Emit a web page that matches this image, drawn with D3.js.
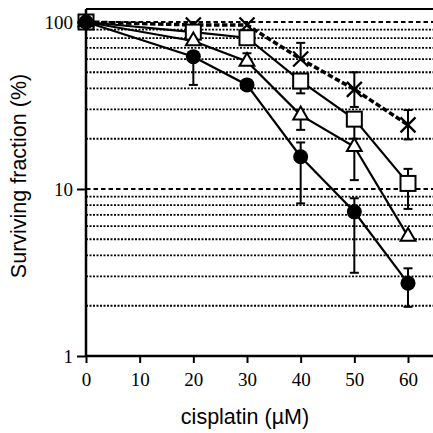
<!DOCTYPE html>
<html><head><meta charset="utf-8">
<script src="https://cdn.jsdelivr.net/npm/d3@7"></script>
<style>body{margin:0;background:#fff}svg{display:block}</style>
</head><body>
<script>
const conc = [0, 20, 30, 40, 50, 60];
const xTicks = [0, 10, 20, 30, 40, 50, 60];
const yTicks = [1, 10, 100];
const gridMajor = [10, 100];
const gridMinor = [2,3,4,5,6,7,8,9,20,30,40,50,60,70,80,90];

const crossVals  = [100, 96, 96, 60, 39.5, 24.2];
const crossLo    = [null, null, null, null, 31, 19.8];
const crossHi    = [null, null, null, 75, 50, 29.7];
const squareVals = [100, 87, 80.5, 44.3, 26.2, 10.8];
const squareLo   = [null, null, null, 37.4, 20, 7.6];
const squareHi   = [null, null, null, null, null, 13.2];
const triVals    = [100, 77, 58, 27.7, 17.9, 5.2];
const triLo      = [null, null, null, 22.6, 11.3, null];
const triHi      = [null, null, 65, null, null, null];
const circVals   = [100, 62, 42, 15.6, 7.3, 2.73];
const circLo     = [null, 42, null, 8.2, 3.15, 1.97];
const circHi     = [null, null, null, 19, 8.8, 3.35];

const W = 433, H = 433;
const svg = d3.select("body").append("svg").attr("width", W).attr("height", H);
const x = d3.scaleLinear().domain([0, 60]).range([86, 408]);
const y = d3.scaleLog().domain([1, 100]).range([356, 22]);
const xRight = 433, yTop = 9;

// gridlines
svg.append("g").selectAll("line").data(gridMinor).join("line")
  .attr("x1", x(0)).attr("x2", xRight).attr("y1", d => y(d)).attr("y2", d => y(d))
  .attr("stroke", "#000").attr("stroke-width", 1.8).attr("stroke-dasharray", "2,1.5");
svg.append("g").selectAll("line").data(gridMajor).join("line")
  .attr("x1", x(0)).attr("x2", xRight).attr("y1", d => y(d)).attr("y2", d => y(d))
  .attr("stroke", "#000").attr("stroke-width", 2).attr("stroke-dasharray", "4.5,3");

// frame
svg.append("line").attr("x1", x(0)).attr("x2", xRight).attr("y1", yTop).attr("y2", yTop)
  .attr("stroke", "#000").attr("stroke-width", 2);

// axes
const xAxis = d3.axisBottom(x).tickValues(xTicks).tickSize(7).tickSizeOuter(0);
const gx = svg.append("g").attr("transform", "translate(0,356)").call(xAxis);
gx.select(".domain").remove();
gx.append("line").attr("x1", x(0)).attr("x2", xRight).attr("stroke", "#000").attr("stroke-width", 2.5);
gx.selectAll(".tick line").attr("stroke-width", 2);
gx.selectAll(".tick text").attr("font-family", "Liberation Serif").attr("font-size", 19)
  .attr("fill", "#000").attr("dy", "0").attr("y", 30);

const yAxis = d3.axisLeft(y).tickValues(yTicks).tickFormat(d3.format("d")).tickSize(9).tickSizeOuter(0);
const gy = svg.append("g").attr("transform", "translate(86,0)").call(yAxis);
gy.select(".domain").remove();
gy.append("line").attr("y1", yTop).attr("y2", 356).attr("stroke", "#000").attr("stroke-width", 2.5);
gy.selectAll(".tick line").attr("stroke-width", 2);
gy.selectAll(".tick text").attr("font-family", "Liberation Serif").attr("font-size", 19)
  .attr("fill", "#000").attr("x", -13).attr("dy", "0.32em");

// titles
svg.append("text").attr("transform", "translate(26,176) rotate(-90)").attr("text-anchor", "middle")
  .attr("font-family", "Liberation Sans").attr("font-size", 21.5).text("Surviving fraction (%)");
svg.append("text").attr("x", 245).attr("y", 424).attr("text-anchor", "middle")
  .attr("font-family", "Liberation Sans").attr("font-size", 21.5).text("cisplatin (\u00b5M)");

const line = d3.line().x((d, i) => x(conc[i])).y(d => y(d));

function errBars(vals, lo, hi) {
  const g = svg.append("g").attr("stroke", "#000").attr("stroke-width", 2);
  conc.forEach((c, i) => {
    [lo[i], hi[i]].forEach(e => {
      if (e == null) return;
      g.append("line").attr("x1", x(c)).attr("x2", x(c)).attr("y1", y(vals[i])).attr("y2", y(e));
      g.append("line").attr("x1", x(c) - 4.5).attr("x2", x(c) + 4.5).attr("y1", y(e)).attr("y2", y(e));
    });
  });
}

// cross series (dashed)
errBars(crossVals, crossLo, crossHi);
svg.append("path").datum(crossVals).attr("d", line).attr("fill", "none")
  .attr("stroke", "#000").attr("stroke-width", 3.5).attr("stroke-dasharray", "5.5,2.5");
svg.append("g").selectAll("path").data(crossVals).join("path")
  .attr("d", (d, i) => { const cx = x(conc[i]), cy = y(d), s = 7.5;
    return `M${cx - s},${cy - s}L${cx + s},${cy + s}M${cx - s},${cy + s}L${cx + s},${cy - s}`; })
  .attr("fill", "none").attr("stroke", "#000").attr("stroke-width", 2.3);

// square series
errBars(squareVals, squareLo, squareHi);
svg.append("path").datum(squareVals).attr("d", line).attr("fill", "none")
  .attr("stroke", "#000").attr("stroke-width", 2.2);
svg.append("g").selectAll("rect").data(squareVals).join("rect")
  .attr("x", (d, i) => x(conc[i]) - 7.5).attr("y", d => y(d) - 7.5)
  .attr("width", 15).attr("height", 15)
  .attr("fill", "#fff").attr("stroke", "#000").attr("stroke-width", 2);

// triangle series
errBars(triVals, triLo, triHi);
svg.append("path").datum(triVals).attr("d", line).attr("fill", "none")
  .attr("stroke", "#000").attr("stroke-width", 2.2);
svg.append("g").selectAll("path").data(triVals).join("path")
  .attr("d", d3.symbol(d3.symbolTriangle, 95)())
  .attr("transform", (d, i) => `translate(${x(conc[i])},${y(d)})`)
  .attr("fill", "#fff").attr("stroke", "#000").attr("stroke-width", 2);

// circle series
errBars(circVals, circLo, circHi);
svg.append("path").datum(circVals).attr("d", line).attr("fill", "none")
  .attr("stroke", "#000").attr("stroke-width", 2.2);
svg.append("g").selectAll("circle").data(circVals).join("circle")
  .attr("cx", (d, i) => x(conc[i])).attr("cy", d => y(d)).attr("r", 7.5)
  .attr("fill", "#000");
</script>
</body></html>
